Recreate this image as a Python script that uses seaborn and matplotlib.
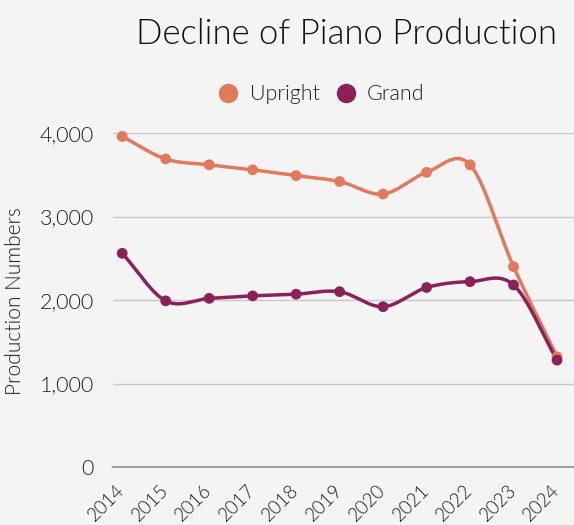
import matplotlib

matplotlib.use("Agg")
import matplotlib.pyplot as plt
from matplotlib.lines import Line2D
from matplotlib.ticker import FuncFormatter
import numpy as np
import pandas as pd
import seaborn as sns

# Data
years = [2014, 2015, 2016, 2017, 2018, 2019, 2020, 2021, 2022, 2023, 2024]
upright = [3960, 3690, 3620, 3560, 3490, 3420, 3270, 3530, 3620, 2400, 1320]
grand = [2560, 1990, 2020, 2050, 2070, 2100, 1920, 2150, 2220, 2180, 1280]
series_names = ["Upright", "Grand"]

UPRIGHT_COLOR = "#E2795A"
GRAND_COLOR = "#8C2159"
BG = "#F4F4F4"
TEXT = "#1E1E1E"
FONT = ["Lato", "DejaVu Sans"]

sns.set_theme(style="white")
plt.rcParams["font.family"] = FONT
plt.rcParams["font.weight"] = 300


def smooth(x, y, steps=30):
    """Catmull-Rom curve through the points (the chart uses a spline line)."""
    x = np.asarray(x, float)
    y = np.asarray(y, float)
    px = np.concatenate([[2 * x[0] - x[1]], x, [2 * x[-1] - x[-2]]])
    py = np.concatenate([[2 * y[0] - y[1]], y, [2 * y[-1] - y[-2]]])
    xs, ys = [], []
    t = np.linspace(0, 1, steps)
    for i in range(1, len(px) - 2):
        for p, out in ((px, xs), (py, ys)):
            p0, p1, p2, p3 = p[i - 1], p[i], p[i + 1], p[i + 2]
            seg = 0.5 * (
                2 * p1
                + (-p0 + p2) * t
                + (2 * p0 - 5 * p1 + 4 * p2 - p3) * t**2
                + (-p0 + 3 * p1 - 3 * p2 + p3) * t**3
            )
            out.extend(seg)
    return np.array(xs), np.array(ys)


df = pd.DataFrame({"year": years, "Upright": upright, "Grand": grand})
long_df = df.melt(id_vars="year", var_name="type", value_name="count")

fig = plt.figure(figsize=(5.74, 5.25), dpi=100, facecolor=BG)
ax = fig.add_axes([0.197, 0.1105, 0.803, 0.636])
ax.set_facecolor(BG)

palette = {"Upright": UPRIGHT_COLOR, "Grand": GRAND_COLOR}
for name in series_names:
    sx, sy = smooth(df["year"], df[name])
    ax.plot(sx, sy, color=palette[name], linewidth=2.5, solid_capstyle="round",
            zorder=3, clip_on=False)

sns.scatterplot(
    data=long_df, x="year", y="count", hue="type", palette=palette,
    s=60, edgecolor="none", legend=False, ax=ax, zorder=4, clip_on=False,
)

ax.set_xlim(2013.79, 2024.39)
ax.set_ylim(0, 4000)
ax.set_yticks([0, 1000, 2000, 3000, 4000])
ax.yaxis.set_major_formatter(FuncFormatter(lambda v, _: f"{int(v):,}"))
ax.set_xticks(years)
ax.set_xticklabels([str(y) for y in years], rotation=45, ha="right",
                   va="center", rotation_mode="anchor",
                   fontsize=13.5, color=TEXT)
ax.tick_params(axis="y", labelsize=15.5, labelcolor=TEXT, length=0, pad=14)
ax.tick_params(axis="x", length=0, pad=15)

ax.grid(axis="y", color="#C8C8C8", linewidth=1)
ax.set_axisbelow(True)
for side in ["top", "right", "left"]:
    ax.spines[side].set_visible(False)
ax.spines["bottom"].set_color("#A0A0A0")
ax.spines["bottom"].set_linewidth(1.5)

ax.set_xlabel("")
ax.set_ylabel("")
fig.text(0.027, 0.427, "Production Numbers", rotation=90, ha="center",
         va="center", fontsize=15, color=TEXT)

fig.text(0.603, 0.935, "Decline of Piano Production", ha="center",
         va="center", fontsize=25, color="#111111")

handles = [
    Line2D([], [], marker="o", linestyle="none", markersize=14,
           markerfacecolor=palette[n], markeredgecolor="none", label=n)
    for n in series_names
]
fig.legend(handles=handles, loc="center", bbox_to_anchor=(0.55, 0.82),
           ncol=2, frameon=False, fontsize=15.5, handletextpad=0.0,
           columnspacing=0.2, labelcolor=TEXT)

fig.savefig("out.png", dpi=100, facecolor=BG)
